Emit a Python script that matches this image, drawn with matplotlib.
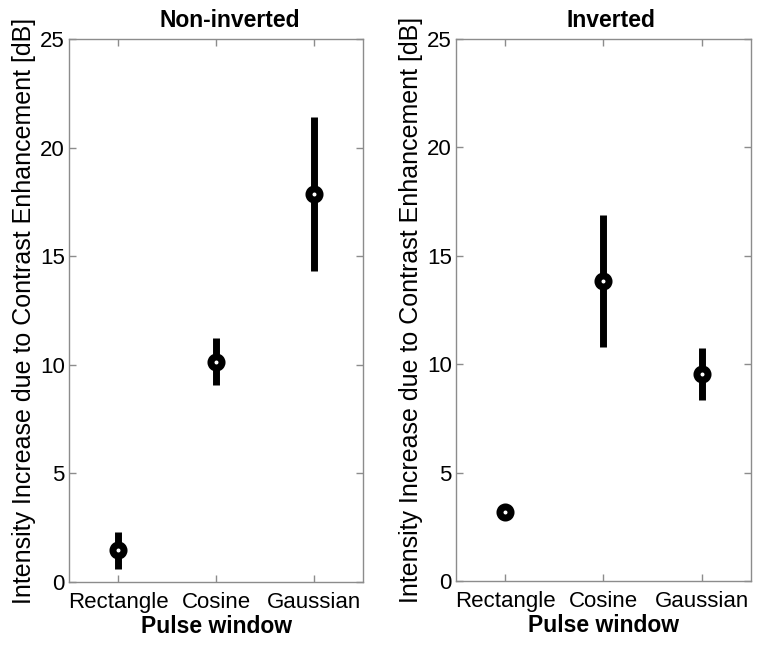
import matplotlib.pyplot as plt
import numpy as np

plt.rcParams['font.family'] = ['Liberation Sans', 'DejaVu Sans']

categories = ['Rectangle', 'Cosine', 'Gaussian']
titles = ['Non-inverted', 'Inverted']
# mean and half-length of error bars
means_noninv = [1.45, 10.15, 17.85]
errs_noninv = [0.83, 1.08, 3.55]
means_inv = [3.2, 13.85, 9.55]
errs_inv = [0.05, 3.05, 1.22]

fig = plt.figure(figsize=(7.62, 6.45), dpi=100)
ax1 = fig.add_axes([0.0906, 0.0977, 0.3858, 0.8418])
ax2 = fig.add_axes([0.5984, 0.0992, 0.3871, 0.8403])

spine_col = '#8c8c8c'
x = np.arange(1, len(categories) + 1)

for ax, title, tx, m, e in [(ax1, titles[0], 0.545, means_noninv, errs_noninv),
                            (ax2, titles[1], 0.525, means_inv, errs_inv)]:
    ax.errorbar(x, m, yerr=e, fmt='o', color='black', ecolor='black',
                elinewidth=5, capsize=0, markersize=8, markeredgewidth=5,
                markerfacecolor='white', markeredgecolor='black', zorder=3)
    ax.set_xlim(0.5, 3.5)
    ax.set_ylim(0, 25)
    ax.set_xticks(x)
    ax.set_xticklabels(categories, fontsize=16)
    ax.set_yticks([0, 5, 10, 15, 20, 25])
    ax.tick_params(axis='y', labelsize=16, pad=3)
    ax.tick_params(direction='in', top=True, right=True, color=spine_col,
                   length=5, width=1)
    ax.tick_params(axis='x', pad=7)
    for s in ax.spines.values():
        s.set_color(spine_col)
        s.set_linewidth(1)
    ax.set_title(title, fontsize=16.5, fontweight='bold', pad=9, x=tx)
    ax.set_xlabel('Pulse window', fontsize=16.5, fontweight='bold', labelpad=1.5)
    ax.set_ylabel('Intensity Increase due to Contrast Enhancement [dB]',
                  fontsize=18, labelpad=3)

plt.savefig('out.png', dpi=100)
